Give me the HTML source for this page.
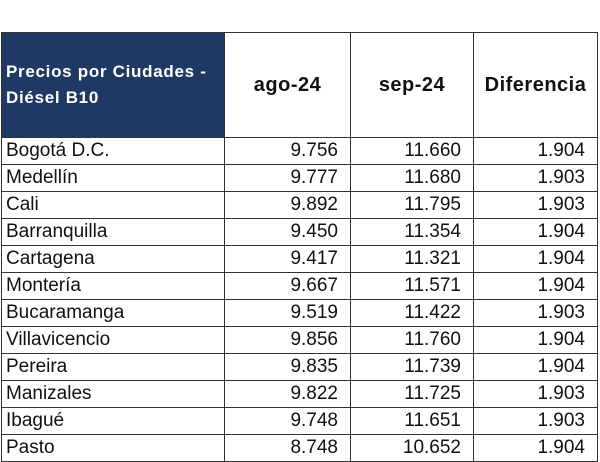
<!DOCTYPE html>
<html><head><meta charset="utf-8"><style>
body{margin:0;width:600px;height:455px;overflow:hidden;background:#fff;font-family:"Liberation Sans",Arial,sans-serif;}
table{position:absolute;left:1px;top:32px;border-collapse:collapse;}
td{border:1.5px solid #333;padding:0 4px;height:26px;font-size:19px;color:#111;white-space:nowrap;}
td.n{text-align:right;padding-right:12px;}
tr.h td{height:104px;font-weight:bold;text-align:center;font-size:20px;letter-spacing:0.5px;}
tr.h td.t{background:#1f3864;color:#fff;text-align:left;font-size:17px;letter-spacing:0.7px;line-height:26px;padding-left:4px;}
</style></head><body>
<table>
<colgroup><col style="width:223px"><col style="width:126px"><col style="width:123px"><col style="width:124px"></colgroup>
<tr class="h"><td class="t">Precios por Ciudades -<br>Diésel B10</td><td>ago-24</td><td>sep-24</td><td>Diferencia</td></tr>
<tr><td>Bogotá D.C.</td><td class="n">9.756</td><td class="n">11.660</td><td class="n">1.904</td></tr>
<tr><td>Medellín</td><td class="n">9.777</td><td class="n">11.680</td><td class="n">1.903</td></tr>
<tr><td>Cali</td><td class="n">9.892</td><td class="n">11.795</td><td class="n">1.903</td></tr>
<tr><td>Barranquilla</td><td class="n">9.450</td><td class="n">11.354</td><td class="n">1.904</td></tr>
<tr><td>Cartagena</td><td class="n">9.417</td><td class="n">11.321</td><td class="n">1.904</td></tr>
<tr><td>Montería</td><td class="n">9.667</td><td class="n">11.571</td><td class="n">1.904</td></tr>
<tr><td>Bucaramanga</td><td class="n">9.519</td><td class="n">11.422</td><td class="n">1.903</td></tr>
<tr><td>Villavicencio</td><td class="n">9.856</td><td class="n">11.760</td><td class="n">1.904</td></tr>
<tr><td>Pereira</td><td class="n">9.835</td><td class="n">11.739</td><td class="n">1.904</td></tr>
<tr><td>Manizales</td><td class="n">9.822</td><td class="n">11.725</td><td class="n">1.903</td></tr>
<tr><td>Ibagué</td><td class="n">9.748</td><td class="n">11.651</td><td class="n">1.903</td></tr>
<tr><td>Pasto</td><td class="n">8.748</td><td class="n">10.652</td><td class="n">1.904</td></tr>
</table>
</body></html>
